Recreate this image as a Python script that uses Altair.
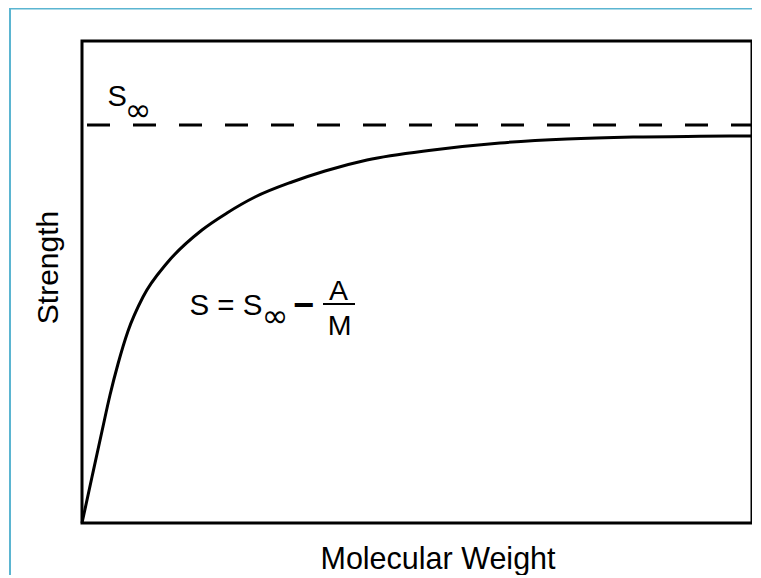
import altair as alt
import pandas as pd

# Curve S(M) (arbitrary units, 0-100 on both axes)
mw = [0, 1.49, 2.99, 4.18, 5.37, 6.87, 9.10, 12.69, 17.91, 21.64, 25.82,
      31.34, 36.27, 42.54, 52.39, 62.39, 72.39, 82.24, 92.24, 100]
strength = [0, 9.54, 19.09, 26.56, 32.99, 39.83, 46.89, 53.94, 60.79, 64.32,
            67.63, 70.75, 73.03, 75.31, 77.39, 78.84, 79.67, 80.08, 80.23, 80.29]
s_inf = 82.57
asym_x = [0, 100]

x_title = "Molecular Weight"
y_title = "Strength"
lbl_s = ["S"]
lbl_inf = ["\u221e"]
lbl_lhs = ["S = S"]
lbl_minus = ["\u2212"]
lbl_num = ["A"]
lbl_den = ["M"]

FONT = "Liberation Sans"
FRAME_BLUE = "#5bb5d1"

curve = pd.DataFrame({"mw": mw, "s": strength})
asym = pd.DataFrame({"mw": asym_x, "s": [s_inf, s_inf]})

xs = alt.Scale(domain=[0, 100], nice=False, zero=False)
ys = alt.Scale(domain=[0, 100], nice=False, zero=False)

x_axis = alt.Axis(title=x_title, labels=False, ticks=False, domain=False, grid=False,
                  titleFont=FONT, titleFontSize=30.5, titleFontWeight="normal",
                  titleColor="black", titleX=355.5, titleY=45, titleAlign="center",
                  titleBaseline="alphabetic")
y_axis = alt.Axis(title=y_title, labels=False, ticks=False, domain=False, grid=False,
                  titleFont=FONT, titleFontSize=30, titleFontWeight="normal",
                  titleColor="black", titleAngle=270, titleX=-25, titleY=226,
                  titleAlign="center", titleBaseline="alphabetic")

line = alt.Chart(curve).mark_line(color="black", strokeWidth=3, interpolate="monotone").encode(
    x=alt.X("mw:Q", scale=xs, axis=x_axis),
    y=alt.Y("s:Q", scale=ys, axis=y_axis),
)

dash = alt.Chart(asym).mark_line(color="black", strokeWidth=3, strokeDash=[23, 23],
                                 strokeDashOffset=41).encode(
    x=alt.X("mw:Q", scale=xs),
    y=alt.Y("s:Q", scale=ys),
)

one = pd.DataFrame({"k": [0]})
frame_left = alt.Chart(one).mark_rule(color=FRAME_BLUE, strokeWidth=2).encode(
    x=alt.value(-72), y=alt.value(-34), y2=alt.value(545))
frame_top = alt.Chart(one).mark_rule(color=FRAME_BLUE, strokeWidth=2).encode(
    x=alt.value(-73), x2=alt.value(700), y=alt.value(-32.5))


def label(texts, x, y, size, align="left", font=FONT, weight="normal"):
    return alt.Chart(pd.DataFrame({"t": texts})).mark_text(
        font=font, fontSize=size, align=align, baseline="alphabetic", color="black",
        fontWeight=weight,
    ).encode(x=alt.value(x), y=alt.value(y), text="t:N")


t_s = label(lbl_s, 25.5, 65, 29)
t_inf = label(lbl_inf, 56, 80, 32, align="center", font="DejaVu Sans")
t_lhs = label(lbl_lhs, 107.5, 274, 29.5)
t_inf2 = label(lbl_inf, 193, 286, 32, align="center", font="DejaVu Sans")
t_minus = label(lbl_minus, 221.5, 275.5, 36, align="center", weight="bold")
t_num = label(lbl_num, 256.5, 259, 28.5, align="center")
t_den = label(lbl_den, 257.5, 294, 28.5, align="center")
bar = alt.Chart(one).mark_rule(color="black", strokeWidth=2).encode(
    x=alt.value(241), x2=alt.value(273), y=alt.value(263))

chart = alt.layer(
    frame_left, frame_top, line, dash,
    t_s, t_inf, t_lhs, t_inf2, t_minus, t_num, t_den, bar,
).properties(
    width=670, height=482,
    padding={"left": 74, "top": 33, "right": 0, "bottom": 52},
    autosize=alt.AutoSizeParams(type="none"),
    background="white",
).configure_view(stroke="black", strokeWidth=3)

chart.save("out.html", embed_options={"renderer": "svg", "actions": False})
